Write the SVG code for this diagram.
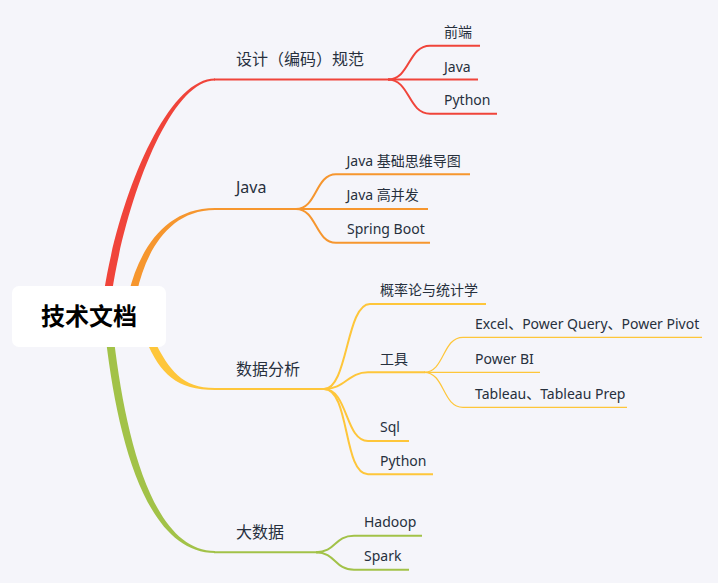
<svg xmlns="http://www.w3.org/2000/svg" width="718" height="583" viewBox="0 0 718 583">
<style>
text{font-family:"Noto Sans","Noto Sans CJK SC",sans-serif;fill:#27303d}
.m{font-size:16px}
.s{font-size:14px}
.c{fill:none;stroke-width:2;stroke-linecap:butt}
.t{fill:none;stroke-width:1.2}
.r{stroke:#f0443a}.o{stroke:#f6962e}.y{stroke:#fec63a}.g{stroke:#a2c248}
</style>
<rect width="718" height="583" fill="#f5f5fa"/>
<g id="connectors">
<path d="M104,292 C118,200 166,78.5 215,78.5 L215,80.5 C170,80.5 126,200 112,292 Z" fill="#f0443a"/>
<path d="M129,292 C138,255 162,208 215,208 L215,210 C167,210 145,255 137,292 Z" fill="#f6962e"/>
<path d="M154,340 C169,370 182,388 215,388 L215,390 C177,390 160,374 146,340 Z" fill="#fec63a"/>
<path d="M114,340 C126,440 153,551 215,551 L215,553 C147,553 118,442 106,340 Z" fill="#a2c248"/>
<path class="c r" d="M214,79.5 H390"/>
<path class="c r" d="M388,79.5 C410,79.5 408,45.7 430,45.7 H480"/>
<path class="c r" d="M388,79.5 H478"/>
<path class="c r" d="M388,79.5 C410,79.5 408,113.7 430,113.7 H497"/>
<path class="c o" d="M214,209 H298"/>
<path class="c o" d="M296,209 C317,209 315,174.3 336,174.3 H470"/>
<path class="c o" d="M296,209 H428"/>
<path class="c o" d="M296,209 C317,209 315,242.7 336,242.7 H430"/>
<path class="c y" d="M214,389 H326"/>
<path class="c y" d="M324,389 C348,389 346,304 370,304 H486"/>
<path class="c y" d="M324,389 C345,389 348,372.3 368,372.3 H425"/>
<path class="c y" d="M324,389 C348,389 345,441 368,441 H409"/>
<path class="c y" d="M324,389 C350,389 343,474.3 368,474.3 H433"/>
<path class="t y" d="M424,372.3 C445,372.3 442,337.3 463,337.3 H702"/>
<path class="t y" d="M424,372.3 H540"/>
<path class="t y" d="M424,372.3 C445,372.3 442,407.3 463,407.3 H627"/>
<path class="c g" d="M214,552.3 H318"/>
<path class="c g" d="M316,552.3 C336,552.3 334,535.7 354,535.7 H422"/>
<path class="c g" d="M316,552.3 C336,552.3 334,569.7 354,569.7 H409"/>
</g>
<g id="root">
<rect x="12" y="286" width="154" height="61" rx="7" fill="#ffffff"/>
<text x="89" y="325" text-anchor="middle" font-size="24" font-weight="bold" style="fill:#000">技术文档</text>
</g>
<g id="n-spec"><text class="m" x="236" y="65">设计（编码）规范</text></g>
<g id="n-frontend"><text class="s" x="444" y="37">前端</text></g>
<g id="n-spec-java"><text class="s" x="444" y="72">Java</text></g>
<g id="n-spec-python"><text class="s" x="444" y="105">Python</text></g>
<g id="n-java"><text class="m" x="236" y="193">Java</text></g>
<g id="n-java-basic"><text class="s" x="346.5" y="166">Java 基础思维导图</text></g>
<g id="n-java-concurrency"><text class="s" x="346.5" y="200">Java 高并发</text></g>
<g id="n-spring"><text class="s" x="347" y="234">Spring Boot</text></g>
<g id="n-data"><text class="m" x="236" y="375">数据分析</text></g>
<g id="n-stats"><text class="s" x="380" y="295">概率论与统计学</text></g>
<g id="n-tools"><text class="s" x="380" y="364">工具</text></g>
<g id="n-excel"><text class="s" x="475" y="329">Excel、Power Query、Power Pivot</text></g>
<g id="n-powerbi"><text class="s" x="475" y="364">Power BI</text></g>
<g id="n-tableau"><text class="s" x="475" y="399">Tableau、Tableau Prep</text></g>
<g id="n-sql"><text class="s" x="380" y="432">Sql</text></g>
<g id="n-data-python"><text class="s" x="380" y="466">Python</text></g>
<g id="n-bigdata"><text class="m" x="236" y="538">大数据</text></g>
<g id="n-hadoop"><text class="s" x="364" y="527">Hadoop</text></g>
<g id="n-spark"><text class="s" x="364" y="561">Spark</text></g>
</svg>
